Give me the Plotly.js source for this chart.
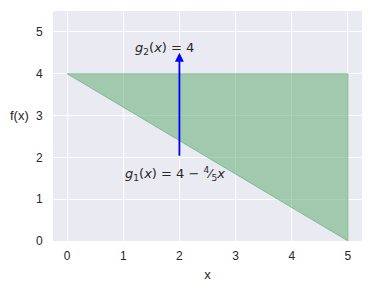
<!DOCTYPE html>
<html><head><meta charset="utf-8">
<script src="https://cdn.plot.ly/plotly-3.0.1.min.js"></script>
<style>html,body{margin:0;padding:0;background:#fff;}#chart{width:372px;height:292px;}</style>
</head><body><div id="chart"></div>
<script>
const xs = [0, 5];
const g1 = [4, 0];
const g2 = [4, 4];
const arrowX = 2, arrowY0 = 2, arrowY1 = 4.5;
const xTicks = [0, 1, 2, 3, 4, 5];
const yTicks = [0, 1, 2, 3, 4, 5];
const labelG2 = {x: 1.73, y: 4.6, text: '<i>g</i><sub>2</sub>(<i>x</i>) = 4'};
const labelG1 = {x: 1.93, y: 1.6, text: '<i>g</i><sub>1</sub>(<i>x</i>) = 4 − <sup>4</sup>⁄<sub>5</sub><i>x</i>'};

const fillCol = 'rgba(85,168,104,0.5)';
const polyX = xs.concat(xs.slice().reverse());
const polyY = g1.concat(g2.slice().reverse());
const traces = [
  {x: polyX, y: polyY,
   mode: 'lines', fill: 'toself', fillcolor: fillCol,
   line: {color: 'rgba(85,168,104,0.55)', width: 1}, hoverinfo: 'skip', showlegend: false}
];
const layout = {
  width: 372, height: 292,
  margin: {l: 53, r: 10, t: 11, b: 51},
  paper_bgcolor: '#ffffff', plot_bgcolor: '#EAEAF2',
  font: {family: 'Liberation Sans, Arial, sans-serif', size: 12, color: '#262626'},
  showlegend: false,
  xaxis: {range: [-0.25, 5.25], tickvals: xTicks, ticktext: xTicks.map(String),
    showgrid: true, gridcolor: '#ffffff', gridwidth: 1, zeroline: false, showline: false,
    ticks: 'outside', ticklen: 4, tickcolor: 'rgba(0,0,0,0)', tickfont: {size: 12, color: '#262626'},
    title: {text: 'x', font: {size: 13, color: '#262626'}, standoff: 7}},
  yaxis: {range: [0, 5.5], tickvals: yTicks, ticktext: yTicks.map(String),
    showgrid: true, gridcolor: '#ffffff', gridwidth: 1, zeroline: false, showline: false,
    ticks: 'outside', ticklen: 7, tickcolor: 'rgba(0,0,0,0)', tickfont: {size: 12, color: '#262626'}, title: {text: ''}},
  annotations: [
    {x: arrowX, y: arrowY1, ax: arrowX, ay: arrowY0, xref: 'x', yref: 'y', axref: 'x', ayref: 'y',
     showarrow: true, arrowhead: 2, arrowsize: 1, arrowwidth: 1.8, arrowcolor: '#0000ff', text: ''},
    {x: labelG2.x, y: labelG2.y, xref: 'x', yref: 'y', text: labelG2.text, showarrow: false,
     font: {size: 13, color: '#262626', family: 'DejaVu Sans, sans-serif'}},
    {x: labelG1.x, y: labelG1.y, xref: 'x', yref: 'y', text: labelG1.text, showarrow: false,
     font: {size: 13, color: '#262626', family: 'DejaVu Sans, sans-serif'}},
    {x: 0, y: 3, xref: 'paper', yref: 'y', xanchor: 'right', xshift: -22, text: 'f(x)', showarrow: false,
     font: {size: 13, color: '#262626'}}
  ]
};
Plotly.newPlot('chart', traces, layout, {displayModeBar: false, staticPlot: true});
</script></body></html>
